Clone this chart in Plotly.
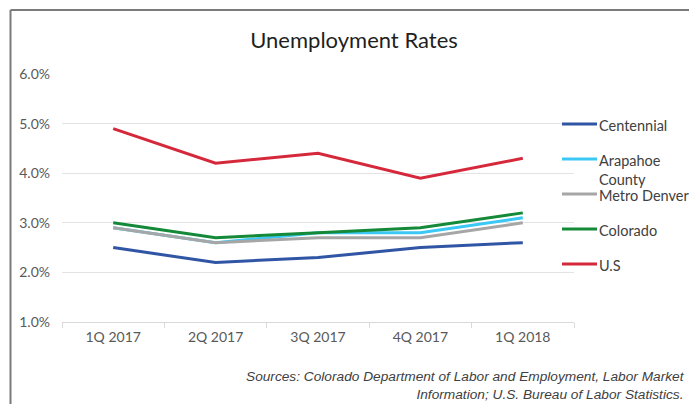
import plotly.graph_objects as go

quarters = ["1Q 2017", "2Q 2017", "3Q 2017", "4Q 2017", "1Q 2018"]
series_names = ["Centennial", "Arapahoe<br>County", "Metro Denver", "Colorado", "U.S"]
centennial = [2.5, 2.2, 2.3, 2.5, 2.6]
arapahoe = [2.9, 2.6, 2.8, 2.8, 3.1]
metro_denver = [2.9, 2.6, 2.7, 2.7, 3.0]
colorado = [3.0, 2.7, 2.8, 2.9, 3.2]
us = [4.9, 4.2, 4.4, 3.9, 4.3]
colors = ["#2f55a4", "#3cc8f5", "#a6a6a6", "#148a38", "#d6283b"]
y_ticks = [1, 2, 3, 4, 5, 6]

values = [centennial, arapahoe, metro_denver, colorado, us]

fig = go.Figure()
for name, vals, col in zip(series_names, values, colors):
    fig.add_trace(go.Scatter(x=quarters, y=vals, mode="lines", name=name,
                             line=dict(color=col, width=3), showlegend=False))

# page has an 8px body margin; work in page pixel coordinates
O = 8
W, H = 697 - O, 404 - O
PL, PR, PT, PB = 62, 574, 74, 322  # plot area in page pixels
L, R, T, B = PL - O, W - (PR - O), PT - O, H - (PB - O)
pw, ph = PR - PL, PB - PT

def px(x):
    return (x - PL) / pw

def py(y):
    return 1 - (y - PT) / ph

shapes = []
annotations = []
# outer frame (left and top edges visible)
shapes.append(dict(type="line", xref="paper", yref="paper", x0=px(10.5), x1=px(720),
                   y0=py(10), y1=py(10), line=dict(color="#7a7a7a", width=2)))
shapes.append(dict(type="line", xref="paper", yref="paper", x0=px(10.5), x1=px(10.5),
                   y0=py(10), y1=py(430), line=dict(color="#7a7a7a", width=2)))

legend_y = [124, 159, 194, 229, 264]
for name, col, ly in zip(series_names, colors, legend_y):
    shapes.append(dict(type="line", xref="paper", yref="paper", x0=px(562), x1=px(597),
                       y0=py(ly), y1=py(ly), line=dict(color=col, width=3)))
    annotations.append(dict(xref="paper", yref="paper", x=px(597), y=py(ly - 9.5),
                            xanchor="left", yanchor="top", showarrow=False, align="left",
                            text=name, font=dict(family="Lato", size=14.5, color="#404040")))

annotations.append(dict(xref="paper", yref="paper", x=px(687), y=py(367),
                        xanchor="right", yanchor="top", showarrow=False, align="right",
                        text="<i>Sources: Colorado Department of Labor and Employment, Labor Market<br>Information; U.S. Bureau of Labor Statistics.</i>",
                        font=dict(family="Liberation Sans, Arial", size=13.7, color="#404040")))

fig.update_layout(
    width=W, height=H,
    margin=dict(l=L, r=R, t=T, b=B),
    paper_bgcolor="white", plot_bgcolor="white",
    title=dict(text="Unemployment Rates", x=(354 - O) / W, xanchor="center",
               y=1 - (40 - O) / H, yanchor="middle",
               font=dict(family="Lato", size=22, color="#1f1f1f")),
    shapes=shapes, annotations=annotations,
    xaxis=dict(type="category", range=[-0.5, 4.5], tickson="boundaries", ticks="outside", ticklen=5,
               tickcolor="#d9d9d9", showline=True, linecolor="#d9d9d9", linewidth=1,
               showgrid=False, tickfont=dict(family="Lato", size=14, color="#595959"),
               ticklabelstandoff=2),
    yaxis=dict(range=[1, 6], tickvals=y_ticks, ticktext=[f"{v:.1f}%" for v in y_ticks],
               showgrid=True, gridcolor="#e3e3e3", gridwidth=1, zeroline=False,
               showline=False, ticks="", ticklabelstandoff=11,
               tickfont=dict(family="Lato", size=14, color="#595959")),
)

fig.write_html("out.html")
